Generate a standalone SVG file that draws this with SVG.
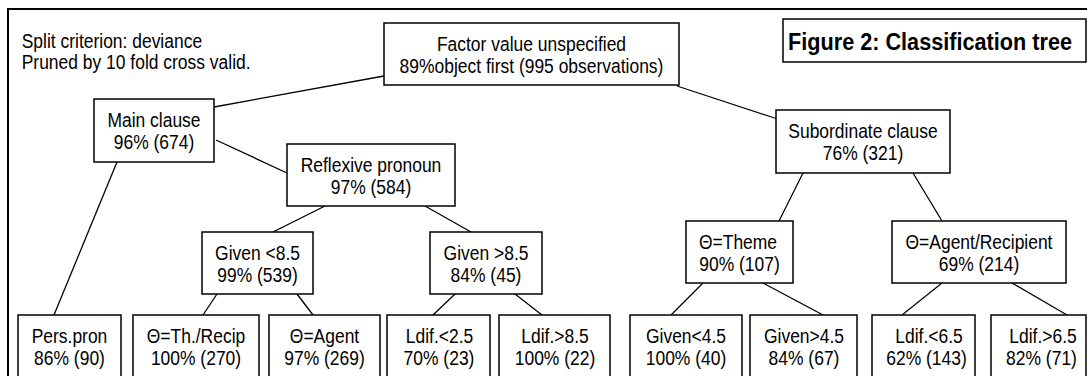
<svg xmlns="http://www.w3.org/2000/svg" width="1087" height="376" viewBox="0 0 1087 376">
<style>
.frame{fill:#fff;stroke:#000;stroke-width:2}
.box{fill:#fff;stroke:#000;stroke-width:1.5}
.t{font-family:"Liberation Sans",Arial,sans-serif;font-size:19.5px;fill:#000;text-anchor:middle}
.l{font-family:"Liberation Sans",Arial,sans-serif;font-size:19.5px;fill:#000;text-anchor:start}
.title{font-family:"Liberation Sans",Arial,sans-serif;font-size:23.3px;font-weight:bold;fill:#000;text-anchor:start}
#connectors line{stroke:#000;stroke-width:1.3}
</style>
<rect class="frame" x="8" y="9" width="1100" height="400"/>
<g id="notes">
<text class="l" transform="translate(21.7,47.5) scale(0.895,1)">Split criterion: deviance</text>
<text class="l" transform="translate(21.7,69) scale(0.895,1)">Pruned by 10 fold cross valid.</text>
</g>
<g id="title">
<rect class="box" x="783" y="19" width="303" height="43"/>
<text class="title" transform="translate(788,50) scale(0.93,1)">Figure 2: Classification tree</text>
</g>
<g id="connectors">
<line x1="214" y1="107" x2="384" y2="76"/>
<line x1="677" y1="86" x2="776" y2="118.5"/>
<line x1="117" y1="162" x2="54" y2="315"/>
<line x1="216" y1="140" x2="287" y2="173"/>
<line x1="325" y1="206" x2="273" y2="232"/>
<line x1="425" y1="206" x2="471" y2="232"/>
<line x1="217" y1="294" x2="203" y2="315"/>
<line x1="297" y1="294" x2="313" y2="315"/>
<line x1="455" y1="294" x2="433" y2="315"/>
<line x1="515" y1="294" x2="542" y2="315"/>
<line x1="803" y1="173" x2="779" y2="221"/>
<line x1="913" y1="173" x2="942" y2="221"/>
<line x1="703" y1="283" x2="671" y2="315"/>
<line x1="763" y1="283" x2="823" y2="315"/>
<line x1="942" y1="283" x2="902" y2="315"/>
<line x1="1012" y1="283" x2="1067" y2="315"/>
</g>
<g id="root">
<rect class="box" x="384" y="23" width="295" height="62"/>
<text class="t" transform="translate(531.5,50.7) scale(0.895,1)">Factor value unspecified</text>
<text class="t" transform="translate(531.5,73) scale(0.895,1)">89%object first (995 observations)</text>
</g>
<g id="main-clause">
<rect class="box" x="94" y="99" width="120" height="63"/>
<text class="t" transform="translate(154,126.5) scale(0.895,1)">Main clause</text>
<text class="t" transform="translate(154,149) scale(0.895,1)">96% (674)</text>
</g>
<g id="reflexive-pronoun">
<rect class="box" x="287" y="144" width="168" height="62"/>
<text class="t" transform="translate(371,171.7) scale(0.895,1)">Reflexive pronoun</text>
<text class="t" transform="translate(371,194) scale(0.895,1)">97% (584)</text>
</g>
<g id="subordinate-clause">
<rect class="box" x="776" y="110" width="174" height="63"/>
<text class="t" transform="translate(863,137.7) scale(0.895,1)">Subordinate clause</text>
<text class="t" transform="translate(863,160) scale(0.895,1)">76% (321)</text>
</g>
<g id="given-lt-8-5">
<rect class="box" x="202" y="232" width="111" height="62"/>
<text class="t" transform="translate(257.5,259.7) scale(0.895,1)">Given &lt;8.5</text>
<text class="t" transform="translate(257.5,282) scale(0.895,1)">99% (539)</text>
</g>
<g id="given-gt-8-5">
<rect class="box" x="430" y="232" width="112" height="62"/>
<text class="t" transform="translate(486,259.7) scale(0.895,1)">Given &gt;8.5</text>
<text class="t" transform="translate(486,282) scale(0.895,1)">84% (45)</text>
</g>
<g id="theta-theme">
<rect class="box" x="686" y="221" width="107" height="62"/>
<text class="t" transform="translate(738,248.7) scale(0.895,1)">Θ=Theme</text>
<text class="t" transform="translate(739.5,271) scale(0.895,1)">90% (107)</text>
</g>
<g id="theta-agent-recipient">
<rect class="box" x="892" y="221" width="174" height="62"/>
<text class="t" transform="translate(979,248.7) scale(0.895,1)">Θ=Agent/Recipient</text>
<text class="t" transform="translate(979,271) scale(0.895,1)">69% (214)</text>
</g>
<g id="leaf-pers-pron">
<rect class="box" x="18" y="315" width="103" height="63"/>
<text class="t" transform="translate(69.5,342.7) scale(0.895,1)">Pers.pron</text>
<text class="t" transform="translate(69.5,365) scale(0.895,1)">86% (90)</text>
</g>
<g id="leaf-th-recip">
<rect class="box" x="133" y="315" width="126" height="63"/>
<text class="t" transform="translate(196,342.7) scale(0.895,1)">Θ=Th./Recip</text>
<text class="t" transform="translate(196,365) scale(0.895,1)">100% (270)</text>
</g>
<g id="leaf-agent">
<rect class="box" x="269" y="315" width="111" height="63"/>
<text class="t" transform="translate(324.5,342.7) scale(0.895,1)">Θ=Agent</text>
<text class="t" transform="translate(324.5,365) scale(0.895,1)">97% (269)</text>
</g>
<g id="leaf-ldif-lt-2-5">
<rect class="box" x="387" y="315" width="103" height="63"/>
<text class="t" transform="translate(439.5,342.7) scale(0.895,1)">Ldif.&lt;2.5</text>
<text class="t" transform="translate(439,365) scale(0.895,1)">70% (23)</text>
</g>
<g id="leaf-ldif-gt-8-5">
<rect class="box" x="499" y="315" width="111" height="63"/>
<text class="t" transform="translate(555,342.7) scale(0.895,1)">Ldif.&gt;8.5</text>
<text class="t" transform="translate(555,365) scale(0.895,1)">100% (22)</text>
</g>
<g id="leaf-given-lt-4-5">
<rect class="box" x="630" y="315" width="112" height="63"/>
<text class="t" transform="translate(686,342.7) scale(0.895,1)">Given&lt;4.5</text>
<text class="t" transform="translate(686,365) scale(0.895,1)">100% (40)</text>
</g>
<g id="leaf-given-gt-4-5">
<rect class="box" x="750" y="315" width="107" height="63"/>
<text class="t" transform="translate(804,342.7) scale(0.895,1)">Given&gt;4.5</text>
<text class="t" transform="translate(804,365) scale(0.895,1)">84% (67)</text>
</g>
<g id="leaf-ldif-lt-6-5">
<rect class="box" x="872" y="315" width="103" height="63"/>
<text class="t" transform="translate(929,342.7) scale(0.895,1)">Ldif.&lt;6.5</text>
<text class="t" transform="translate(926.5,365) scale(0.895,1)">62% (143)</text>
</g>
<g id="leaf-ldif-gt-6-5">
<rect class="box" x="991" y="315" width="95" height="63"/>
<text class="t" transform="translate(1043,342.7) scale(0.895,1)">Ldif.&gt;6.5</text>
<text class="t" transform="translate(1041.5,365) scale(0.895,1)">82% (71)</text>
</g>
</svg>
